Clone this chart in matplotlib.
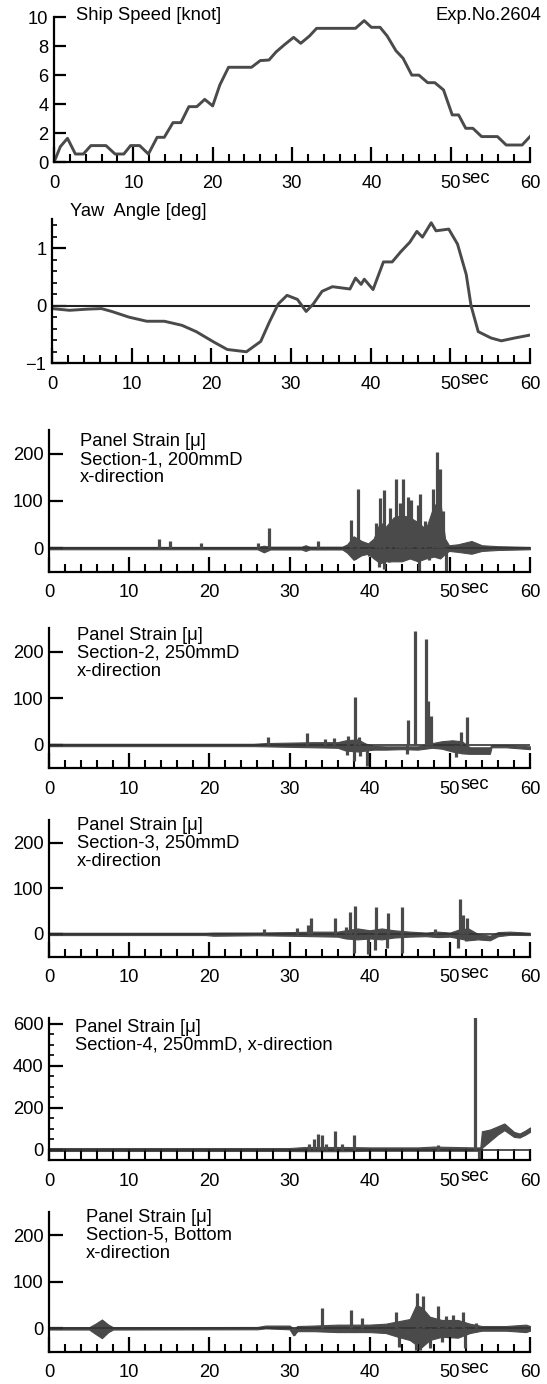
import matplotlib.pyplot as plt
from matplotlib.ticker import MultipleLocator

plt.rcParams['font.family'] = ['Liberation Sans', 'DejaVu Sans']

# ship speed [knot]
speed_t = [0, 0.8, 1.7, 2.7, 3.7, 4.65, 6.55, 7.7, 8.8, 9.65, 10.8, 11.9, 13.0, 13.9,
           15.0, 16.0, 17.0, 18.0, 19.0, 20.0, 20.9, 22.0, 24.9, 26.0, 27.1, 28.0, 29.0,
           30.2, 31.1, 32.2, 33.1, 38.0, 39.1, 40.0, 41.1, 42.0, 43.1, 44.0, 45.1, 46.0,
           47.1, 48.0, 49.1, 50.2, 51.0, 51.9, 52.8, 53.9, 55.9, 57.0, 59.0, 60.0]
speed_v = [0, 1.08, 1.65, 0.57, 0.57, 1.15, 1.15, 0.57, 0.57, 1.15, 1.15, 0.57, 1.72, 1.72,
           2.73, 2.73, 3.83, 3.83, 4.33, 3.88, 5.32, 6.54, 6.54, 7.0, 7.04, 7.6, 8.07,
           8.6, 8.19, 8.69, 9.22, 9.22, 9.75, 9.29, 9.29, 8.69, 7.68, 7.16, 6.0, 6.0,
           5.48, 5.48, 4.98, 3.26, 3.26, 2.34, 2.34, 1.77, 1.77, 1.19, 1.19, 1.77]

# yaw angle [deg]
yaw_t = [0, 2.2, 4.4, 6.2, 7.5, 9.7, 11.9, 14.1, 16.3, 18.1, 20.3, 22.0, 24.4, 26.2, 27.3,
         28.4, 29.5, 30.8, 31.9, 32.8, 33.9, 35.2, 37.4, 38.1, 38.8, 39.2, 40.3, 41.6, 42.7,
         43.8, 44.9, 45.8, 46.5, 47.6, 48.2, 49.8, 50.9, 52.0, 52.6, 53.5, 55.1, 56.4, 58.1, 60]
yaw_v = [-0.05, -0.08, -0.06, -0.05, -0.10, -0.20, -0.27, -0.27, -0.34, -0.45, -0.63, -0.76,
         -0.80, -0.62, -0.28, 0.03, 0.18, 0.11, -0.10, 0.03, 0.25, 0.33, 0.29, 0.48, 0.37,
         0.46, 0.28, 0.76, 0.76, 0.94, 1.10, 1.29, 1.19, 1.44, 1.30, 1.33, 1.07, 0.54, 0.0,
         -0.45, -0.56, -0.61, -0.56, -0.51]

# panel strain: noise band envelope + single spikes
s1_band_t = [0, 26.0, 26.8, 27.6, 31.5, 32.0, 32.5, 36.6, 37.2, 38.0, 39.0, 39.8, 40.5, 41.3,
             42.0, 43.0, 44.0, 45.0, 46.0, 47.0, 48.0, 48.8, 49.4, 49.9, 51.0, 52.7, 54.0, 56.0, 60.0]
s1_band_hi = [2.5, 2.5, 5, 3, 3, 6, 3, 3, 8, 25, 15, 10, 20, 55, 45, 65, 70, 65, 55, 40, 90, 100,
              20, 6, 8, 15, 6, 4, 2.5]
s1_band_lo = [-2.5, -2.5, -9, -3, -3, -6, -3, -3, -10, -25, -15, -12, -22, -32, -28, -28, -28,
              -22, -28, -22, -18, -22, -12, -6, -8, -12, -6, -4, -2.5]
s1_spike_t = [13.7, 15.1, 19.0, 26.1, 27.4, 33.5, 37.73, 38.56, 40.74, 41.28, 41.79, 42.5, 43.25,
              43.75, 44.21, 44.84, 45.17, 45.97, 46.3, 46.93, 47.85, 48.35, 48.77, 49.2,
              38.2, 39.9, 41.16, 41.83, 42.4, 43.6, 44.4, 46.1, 47.4, 49.5]
s1_spike_v = [19, 15, 10, 10, 42, 14, 60, 126, 53, 107, 124, 85, 147, 95, 147, 109, 102, 92, 115,
              57, 126, 203, 168, 78, -23, -16, -40, -44, -30, -26, -19, -50, -26, -50]

s2_band_t = [0, 25.5, 27.0, 30.0, 33.0, 36.0, 37.0, 38.5, 39.5, 40.5, 42.0, 44.0, 46.0, 47.8,
             49.0, 50.3, 51.5, 52.5, 55.0, 55.2, 57.0, 60.0]
s2_band_hi = [2.5, 2.5, 4, 5, 6, 6, 10, 12, 3, -2, -3, -3, -3, 4, 8, 10, 8, -5, -5, 0, 0, -3]
s2_band_lo = [-2.5, -2.5, -3, -4, -5, -6, -12, -14, -12, -10, -10, -9, -10, -6, -8, -14, -18,
              -19, -19, -5, -5, -9]
s2_spike_t = [27.3, 32.2, 34.4, 35.5, 37.3, 38.2, 38.7, 44.8, 45.63, 47.05, 47.3, 47.6, 51.4, 52.1,
              37.2, 38.0, 38.8, 39.7, 44.7, 50.8]
s2_spike_v = [17, 26, 12, 14, 19, 102, 16, 53, 245, 228, 94, 62, 28, 60, -21, -35, -24, -45, -20, -26]

s3_band_t = [0, 19.5, 20.5, 26.0, 30.0, 33.0, 36.0, 37.0, 38.5, 40.0, 41.5, 43.0, 45.0, 47.0,
             48.5, 50.0, 51.2, 52.3, 53.5, 55.0, 56.0, 57.5, 60.0]
s3_band_hi = [2.5, 2.5, 3, 3, 4, 5, 5, 8, 12, 8, 12, 8, 5, 3, 5, 3, 10, 12, 0, -4, 4, 5, 2.5]
s3_band_lo = [-2.5, -2.5, -4, -3, -4, -5, -6, -10, -12, -10, -12, -8, -6, -5, -7, -6, -10, -14,
              -12, -14, -5, -2, -2.5]
s3_spike_t = [26.85, 30.9, 32.3, 32.7, 35.7, 37.0, 37.5, 38.2, 40.8, 42.3, 44.0, 48.2, 51.3, 51.7,
              52.2, 38.0, 39.8, 40.7, 42.1, 44.0, 51.0, 52.0]
s3_spike_v = [10, 14, 19, 34, 36, 15, 48, 61, 60, 46, 59, 10, 77, 41, 34, -42, -45, -35, -31, -42,
              -31, -16]

s4_band_t = [0, 30, 32, 37, 40, 46, 48, 53.0, 53.8, 54.0, 55.0, 56.0, 56.8, 58.0, 58.7, 59.4, 60]
s4_band_hi = [7, 7, 12, 12, 10, 10, 14, 10, 10, 87, 95, 111, 124, 84, 76, 90, 105]
s4_band_lo = [-7, -7, -8, -8, -6, -6, -6, -6, -6, 8, 40, 72, 92, 60, 57, 70, 84]
s4_spike_t = [32.4, 33.1, 33.5, 34.0, 34.5, 35.7, 36.6, 38.1, 48.5, 53.2, 53.7]
s4_spike_v = [24, 48, 72, 68, 24, 88, 24, 67, 20, 632, -50]

s5_band_t = [0, 5, 5.8, 6.6, 7.4, 8, 26, 27, 30, 30.5, 31, 33, 36, 40, 42, 43.5, 45, 45.8, 46.5,
             47.5, 49, 51, 52.5, 54, 57, 59.5, 60]
s5_band_hi = [2.5, 2.5, 10, 19, 8, 2.5, 3, 6, 6, 0, 5, 6, 8, 8, 10, 15, 20, 50, 45, 25, 18, 18,
              10, 5, 5, 8, 5]
s5_band_lo = [-2.5, -2.5, -12, -21, -8, -2.5, -2, 0, -2, -15, -6, -6, -8, -8, -10, -18, -25, -35,
              -40, -25, -18, -20, -10, -5, -5, -8, -5]
s5_spike_t = [34.0, 37.7, 39.1, 43.3, 45.9, 46.6, 48.5, 49.5, 50.4, 51.7, 53.3,
              30.5, 43.7, 45.8, 46.3, 47.5, 49.0, 51.9]
s5_spike_v = [44, 39, 23, 35, 75, 69, 49, 26, 28, 35, 12, -15, -40, -46, -46, -42, -29, -43]

x_ticks = [0, 10, 20, 30, 40, 50, 60]
x_labels = ['0', '10', '20', '30', '40', '50', '60']

W, H = 547, 1384
fig = plt.figure(figsize=(W / 100, H / 100), dpi=100)
TRACE = '#4a4a4a'
FS = 13.2


def panel(top, bottom, left=49, right=530):
    return fig.add_axes([left / W, 1 - bottom / H, (right - left) / W, (bottom - top) / H])


def style(ax, xmaj=10.8, xmin=6.0):
    for s in ['top', 'right']:
        ax.spines[s].set_visible(False)
    for s in ['left', 'bottom']:
        ax.spines[s].set_linewidth(1.6)
    ax.set_xlim(0, 60)
    ax.set_xticks(x_ticks)
    ax.set_xticklabels(x_labels)
    ax.xaxis.set_minor_locator(MultipleLocator(2))
    ax.tick_params(axis='x', which='major', direction='in', length=xmaj, width=1.6,
                   pad=9, labelsize=FS)
    ax.tick_params(axis='x', which='minor', direction='in', length=xmin, width=1.5)
    ax.tick_params(axis='y', which='major', direction='in', length=10, width=1.6,
                   pad=4, labelsize=FS)
    ax.tick_params(axis='y', which='minor', direction='in', length=3.8, width=1.2)
    ax.annotate('sec', xy=(50, 0), xycoords=('data', 'axes fraction'), xytext=(7.5, -12),
                textcoords='offset points', fontsize=FS, ha='left', va='center')


def label(x, y, s, **kw):
    fig.text(x / W, 1 - y / H, s, fontsize=FS, va='center', **kw)


# 1: ship speed
ax = panel(17, 162.3, left=54)
ax.plot(speed_t, speed_v, color=TRACE, lw=2.1)
ax.set_ylim(0, 10)
ax.set_yticks([0, 2, 4, 6, 8, 10])
style(ax)
ax.tick_params(axis='y', which='major', length=8.3)
label(76, 15, 'Ship Speed [knot]')
label(541, 15, 'Exp.No.2604', ha='right')

# 2: yaw angle
ax = panel(219.3, 363.3, left=52)
ax.axhline(0, color='#222222', lw=1.5)
ax.plot(yaw_t, yaw_v, color=TRACE, lw=2.1)
ax.set_ylim(-1, 1.5)
ax.set_yticks([-1, 0, 1])
ax.yaxis.set_minor_locator(MultipleLocator(0.2))
style(ax)
label(70, 211, 'Yaw  Angle [deg]')

strain = [
    (430, 571.7, s1_band_t, s1_band_hi, s1_band_lo, s1_spike_t, s1_spike_v,
     ['Panel Strain [\u03bc]', 'Section-1, 200mmD', 'x-direction'], 80, 442),
    (628.3, 768.3, s2_band_t, s2_band_hi, s2_band_lo, s2_spike_t, s2_spike_v,
     ['Panel Strain [\u03bc]', 'Section-2, 250mmD', 'x-direction'], 77, 635),
    (820, 956.7, s3_band_t, s3_band_hi, s3_band_lo, s3_spike_t, s3_spike_v,
     ['Panel Strain [\u03bc]', 'Section-3, 250mmD', 'x-direction'], 77, 825),
    (1018.3, 1160, s4_band_t, s4_band_hi, s4_band_lo, s4_spike_t, s4_spike_v,
     ['Panel Strain [\u03bc]', 'Section-4, 250mmD, x-direction'], 75, 1027),
    (1211.7, 1351.7, s5_band_t, s5_band_hi, s5_band_lo, s5_spike_t, s5_spike_v,
     ['Panel Strain [\u03bc]', 'Section-5, Bottom', 'x-direction'], 86, 1217),
]

for i, (top, bottom, bt, bhi, blo, st, sv, lines, tx, ty) in enumerate(strain):
    ax = panel(top, bottom)
    ax.axhline(0, color='#333333', lw=1.2)
    ax.fill_between(bt, blo, bhi, color=TRACE, lw=0.8, edgecolor=TRACE)
    ax.vlines(st, 0, sv, colors=TRACE, lw=2.3)
    if i == 3:
        ax.set_ylim(-50, 625)
        ax.set_yticks([0, 200, 400, 600])
        ax.yaxis.set_minor_locator(MultipleLocator(50))
        style(ax, xmaj=7.9, xmin=7.9)
    else:
        ax.set_ylim(-50, 250)
        ax.set_yticks([0, 100, 200])
        style(ax)
    for k, s in enumerate(lines):
        label(tx, ty + k * 18, s)

fig.savefig('out.png', dpi=100)
